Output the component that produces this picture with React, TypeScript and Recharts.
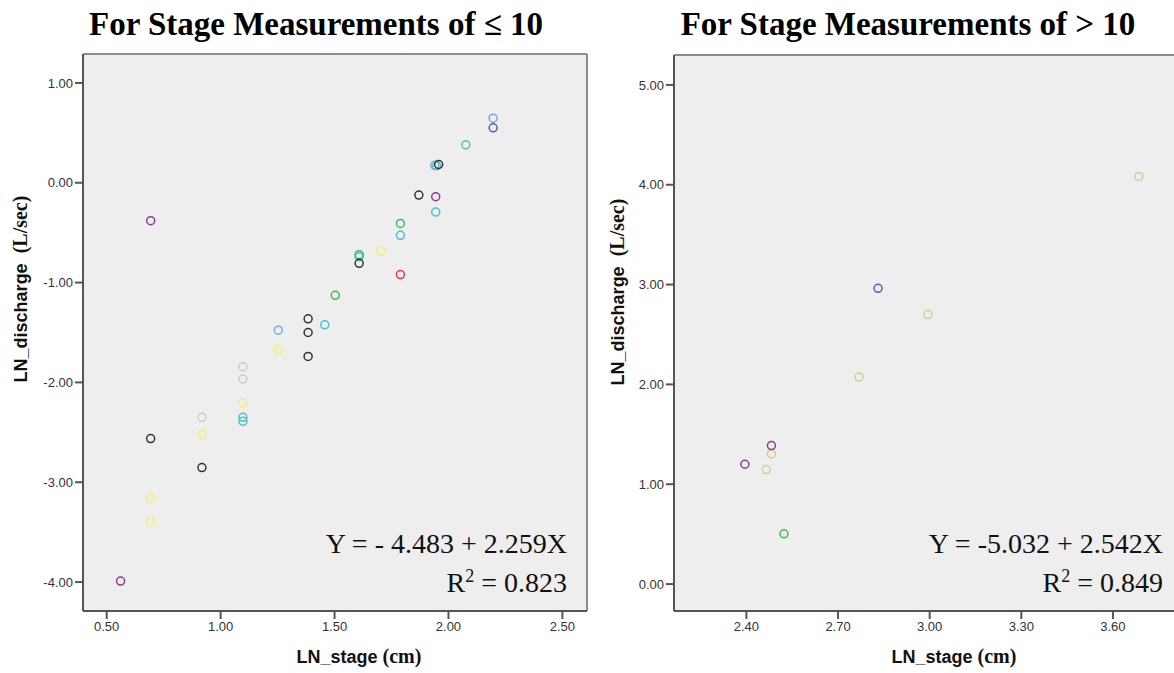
import React from "react"
import { ScatterChart, Scatter, XAxis, YAxis, CartesianGrid, ReferenceLine } from "recharts"

type Pt = { x: number; y: number }

// stage <= 10 panel, one array per site colour
const leftPurple: Pt[] = [{ x: 0.561, y: -3.99 }, { x: 0.693, y: -0.38 }, { x: 1.944, y: -0.14 }]
const leftBlack: Pt[] = [
   { x: 0.693, y: -2.563 }, { x: 0.918, y: -2.853 }, { x: 1.384, y: -1.363 }, { x: 1.384, y: -1.5 },
   { x: 1.384, y: -1.74 }, { x: 1.608, y: -0.807 }, { x: 1.87, y: -0.123 }, { x: 1.957, y: 0.183 },
]
const leftYellow: Pt[] = [
   { x: 0.693, y: -3.163 }, { x: 0.693, y: -3.39 }, { x: 0.918, y: -2.517 },
   { x: 1.098, y: -2.207 }, { x: 1.253, y: -1.68 }, { x: 1.703, y: -0.687 },
]
const leftGray: Pt[] = [{ x: 0.918, y: -2.35 }, { x: 1.098, y: -1.843 }, { x: 1.098, y: -1.967 }]
const leftCyan: Pt[] = [
   { x: 1.098, y: -2.35 }, { x: 1.098, y: -2.39 }, { x: 1.457, y: -1.423 }, { x: 1.608, y: -0.74 },
   { x: 1.789, y: -0.527 }, { x: 1.944, y: -0.293 }, { x: 1.948, y: 0.17 }, { x: 2.076, y: 0.38 },
]
const leftLightBlue: Pt[] = [{ x: 1.253, y: -1.477 }, { x: 1.94, y: 0.175 }, { x: 2.196, y: 0.647 }]
const leftDarkBlue: Pt[] = [{ x: 2.196, y: 0.55 }]
const leftGreen: Pt[] = [{ x: 1.503, y: -1.127 }, { x: 1.608, y: -0.72 }, { x: 1.789, y: -0.407 }]
const leftRed: Pt[] = [{ x: 1.789, y: -0.92 }]

// stage > 10 panel
const rightBeige: Pt[] = [
   { x: 3.685, y: 4.083 }, { x: 2.994, y: 2.7 }, { x: 2.769, y: 2.073 },
   { x: 2.482, y: 1.303 }, { x: 2.465, y: 1.147 },
]
const rightBlue: Pt[] = [{ x: 2.831, y: 2.963 }]
const rightPurple: Pt[] = [{ x: 2.482, y: 1.387 }, { x: 2.395, y: 1.2 }]
const rightGreen: Pt[] = [{ x: 2.523, y: 0.503 }]

const leftXTicks = [0.5, 1, 1.5, 2, 2.5]
const leftYTicks = [-4, -3, -2, -1, 0, 1]
const rightXTicks = [2.4, 2.7, 3.0, 3.3, 3.6]
const rightYTicks = [0, 1, 2, 3, 4, 5]

const leftSeries = [
   { color: "#cccccc", data: leftGray },
   { color: "#f4ef6e", data: leftYellow },
   { color: "#48c2c5", data: leftCyan },
   { color: "#7aaad5", data: leftLightBlue },
   { color: "#4a62bd", data: leftDarkBlue },
   { color: "#3dbb50", data: leftGreen },
   { color: "#ef3338", data: leftRed },
   { color: "#8e3a8f", data: leftPurple },
   { color: "#333333", data: leftBlack },
]
const rightSeries = [
   { color: "#d3ce97", data: rightBeige },
   { color: "#4a62bd", data: rightBlue },
   { color: "#8e3a8f", data: rightPurple },
   { color: "#3dbb50", data: rightGreen },
]

const SANS = "'Liberation Sans', Arial, sans-serif"
const SERIF = "'Liberation Serif', 'Times New Roman', serif"
const fmt = (v: number) => v.toFixed(2)

const ring = (color: string) => (props: any) =>
   <circle cx={props.cx} cy={props.cy} r={4} fill="none" stroke={color} strokeWidth={1.5} />

const Panel = ({ series, xDomain, yDomain, xTicks, yTicks, width, margin }: any) => {
   const tick = { fill: "#333", fontSize: 13, fontFamily: SANS }
   return (
      <ScatterChart width={width} height={673} margin={margin}>
         <CartesianGrid fill="#eeeeee" horizontal={false} vertical={false} />
         <XAxis type="number" dataKey="x" domain={xDomain} ticks={xTicks} allowDataOverflow
            tickFormatter={fmt} tick={tick} tickSize={8} tickMargin={3} height={40}
            axisLine={{ stroke: "#555", strokeWidth: 2 }} tickLine={{ stroke: "#555", strokeWidth: 2 }} />
         <YAxis type="number" dataKey="y" domain={yDomain} ticks={yTicks} allowDataOverflow
            tickFormatter={fmt} tick={tick} tickSize={8} tickMargin={2} width={60}
            axisLine={{ stroke: "#555", strokeWidth: 2 }} tickLine={{ stroke: "#555", strokeWidth: 2 }} />
         <ReferenceLine y={yDomain[1]} stroke="#8c8c8c" strokeWidth={2} />
         <ReferenceLine x={xDomain[1]} stroke="#8c8c8c" strokeWidth={2} />
         {series.map((s: any, i: number) => (
            <Scatter key={i} data={s.data} isAnimationActive={false} shape={ring(s.color)} />
         ))}
      </ScatterChart>
   )
}

const YLabel = ({ x, y }: { x: number; y: number }) => (
   <text transform={`translate(${x}, ${y}) rotate(-90)`} textAnchor="middle" fill="#111" fontWeight="bold" fontSize={18}>
      <tspan fontFamily={SANS}>LN_discharge</tspan>
      <tspan fontFamily={SERIF} fontSize={20}>{"\u00a0\u00a0(L/sec)"}</tspan>
   </text>
)

const XLabel = ({ x }: { x: number }) => (
   <text x={x} y={663} textAnchor="middle" fill="#111" fontWeight="bold" fontSize={18}>
      <tspan fontFamily={SANS}>LN_stage </tspan>
      <tspan fontFamily={SERIF} fontSize={20}>(cm)</tspan>
   </text>
)

const Equation = ({ x, line, r2 }: { x: number; line: string; r2: string }) => (
   <g fontFamily={SERIF} fontSize={28} fill="#111" textAnchor="end">
      <text x={x} y={553}>{line}</text>
      <text x={x} y={592}>
         R<tspan fontSize={18} dy={-10}>2</tspan><tspan dy={10}>{` = ${r2}`}</tspan>
      </text>
   </g>
)

export default function App() {
   return (
      <div style={{ position: "absolute", left: 0, top: 0, width: 1174, height: 673, overflow: "hidden", background: "#fff" }}>
         <div style={{ position: "absolute", left: 0, top: 0 }}>
            <Panel series={leftSeries} xDomain={[0.396, 2.608]} yDomain={[-4.29, 1.29]}
               xTicks={leftXTicks} yTicks={leftYTicks} width={600}
               margin={{ top: 54, right: 13, bottom: 22, left: 23 }} />
         </div>
         <div style={{ position: "absolute", left: 600, top: 0 }}>
            <Panel series={rightSeries} xDomain={[2.163, 3.993]} yDomain={[-0.27, 5.3]}
               xTicks={rightXTicks} yTicks={rightYTicks} width={640}
               margin={{ top: 55, right: 7, bottom: 22, left: 14 }} />
         </div>
         <svg width={1174} height={673} style={{ position: "absolute", left: 0, top: 0, pointerEvents: "none" }}>
            <text x={316} y={35} textAnchor="middle" fontFamily={SERIF} fontWeight="bold" fontSize={33} fill="#000">
               For Stage Measurements of ≤ 10
            </text>
            <text x={908} y={35} textAnchor="middle" fontFamily={SERIF} fontWeight="bold" fontSize={33} fill="#000">
               For Stage Measurements of &gt; 10
            </text>
            <YLabel x={26.5} y={289} />
            <YLabel x={623.5} y={292} />
            <XLabel x={359} />
            <XLabel x={954} />
            <Equation x={567} line="Y = - 4.483 + 2.259X" r2="0.823" />
            <Equation x={1163} line="Y = -5.032 + 2.542X" r2="0.849" />
         </svg>
      </div>
   )
}
